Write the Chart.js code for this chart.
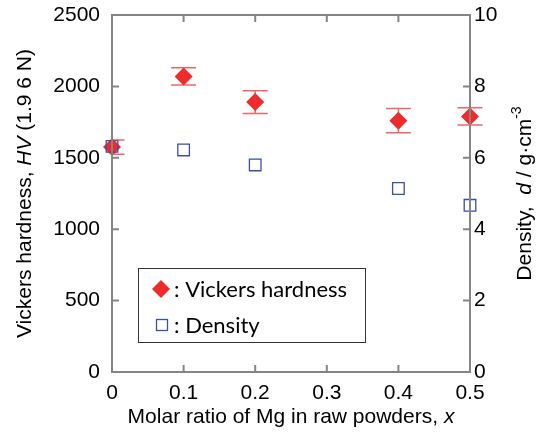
<!DOCTYPE html>
<html>
<head>
<meta charset="utf-8">
<script src="https://cdn.jsdelivr.net/npm/chart.js@4.4.1/dist/chart.umd.min.js"></script>
<style>
body { margin: 0; background: #fff; }
</style>
</head>
<body>
<canvas id="myChart" width="537" height="439"></canvas>
<script>
// datos
var x_mg = [0, 0.1, 0.2, 0.4, 0.5];
var dureza = [1575, 2070, 1890, 1760, 1790];
var dureza_err = [50, 60, 80, 85, 60];
var densidad = [6.32, 6.22, 5.8, 5.14, 4.67];

var x_ticks = [0, 0.1, 0.2, 0.3, 0.4, 0.5];
var hv_ticks = [0, 500, 1000, 1500, 2000, 2500];
var d_ticks = [0, 2, 4, 6, 8, 10];

var ROJO = '#ee2a2a';
var AZUL = '#3d4ea3';
var GRIS = '#858585';
var FUENTE = '"Liberation Sans", Arial, sans-serif';

var p_dureza = [];
var p_densidad = [];
for (var i = 0; i < x_mg.length; i++) {
    p_dureza.push({x: x_mg[i], y: dureza[i]});
    p_densidad.push({x: x_mg[i], y: densidad[i]});
}

// barras de error
var errorBars = {
    id: 'errorBars',
    afterDatasetsDraw: function(chart) {
        var ctx = chart.ctx;
        var xs = chart.scales.x, ys = chart.scales.y;
        var a = chart.chartArea;
        ctx.save();
        ctx.beginPath();
        ctx.rect(a.left, 0, chart.width - a.left, chart.height);
        ctx.clip();
        ctx.strokeStyle = 'rgba(236,50,50,0.75)';
        ctx.lineWidth = 1.5;
        for (var i = 0; i < x_mg.length; i++) {
            var px = xs.getPixelForValue(x_mg[i]);
            var y1 = ys.getPixelForValue(dureza[i] + dureza_err[i]);
            var y2 = ys.getPixelForValue(dureza[i] - dureza_err[i]);
            ctx.beginPath();
            ctx.moveTo(px, y1); ctx.lineTo(px, y2);
            ctx.moveTo(px - 12.5, y1); ctx.lineTo(px + 12.5, y1);
            ctx.moveTo(px - 12.5, y2); ctx.lineTo(px + 12.5, y2);
            ctx.stroke();
        }
        ctx.restore();
    }
};

// marco, marcas hacia dentro, titulos y leyenda
var marco = {
    id: 'marco',
    afterDraw: function(chart) {
        var ctx = chart.ctx;
        var a = chart.chartArea;
        var xs = chart.scales.x, ys = chart.scales.y, y2s = chart.scales.y2;
        ctx.save();
        ctx.strokeStyle = GRIS;
        ctx.lineWidth = 2;
        ctx.strokeRect(a.left, a.top, a.right - a.left, a.bottom - a.top);
        ctx.beginPath();
        var t = 7;
        x_ticks.forEach(function(v) {
            var px = xs.getPixelForValue(v);
            ctx.moveTo(px, a.bottom); ctx.lineTo(px, a.bottom - t);
            ctx.moveTo(px, a.top); ctx.lineTo(px, a.top + t);
        });
        hv_ticks.forEach(function(v) {
            var py = ys.getPixelForValue(v);
            ctx.moveTo(a.left, py); ctx.lineTo(a.left + t, py);
        });
        d_ticks.forEach(function(v) {
            var py = y2s.getPixelForValue(v);
            ctx.moveTo(a.right, py); ctx.lineTo(a.right - t, py);
        });
        ctx.stroke();

        ctx.fillStyle = '#000';
        ctx.textBaseline = 'middle';

        // titulo eje x
        var partesX = [['Molar ratio of Mg in raw powders, ', ''], ['x', 'italic ']];
        dibujarPartes(ctx, partesX, (a.left + a.right) / 2, 417, 0);

        // titulo eje y izquierdo
        var partesY = [['Vickers hardness, ', ''], ['HV', 'italic '], [' (1.9 6 N)', '']];
        dibujarPartes(ctx, partesY, 25, (a.top + a.bottom) / 2, -Math.PI / 2);

        // titulo eje y derecho
        var partesD = [['Density,  ', ''], ['d', 'italic '], [' / g\u00b7cm', ''], ['-3', 'sup']];
        dibujarPartes(ctx, partesD, 525, (a.top + a.bottom) / 2, -Math.PI / 2);

        // leyenda
        ctx.strokeStyle = '#333';
        ctx.lineWidth = 1;
        ctx.strokeRect(138.5, 268.5, 227, 74);
        var lx = 161;
        var ly1 = 289, ly2 = 325;
        ctx.fillStyle = ROJO;
        ctx.beginPath();
        ctx.moveTo(lx - 9, ly1); ctx.lineTo(lx, ly1 - 9); ctx.lineTo(lx + 9, ly1); ctx.lineTo(lx, ly1 + 9);
        ctx.closePath();
        ctx.fill();
        ctx.strokeStyle = AZUL;
        ctx.lineWidth = 1.3;
        ctx.strokeRect(lx - 4.5, ly2 - 5.5, 11, 11);
        ctx.fillStyle = '#000';
        ctx.font = '22px Lato, "Open Sans", sans-serif';
        ctx.textAlign = 'left';
        ctx.fillText(': Vickers hardness', 174, ly1 + 1);
        ctx.fillText(': Density', 174, ly2 + 1);
        ctx.restore();
    }
};

function dibujarPartes(ctx, partes, cx, cy, rot)
{
    ctx.save();
    ctx.translate(cx, cy);
    ctx.rotate(rot);
    var total = 0;
    var fuentes = [];
    partes.forEach(function(p) {
        var f = p[1] === 'sup' ? '14px ' + FUENTE : p[1] + '21px ' + FUENTE;
        fuentes.push(f);
        ctx.font = f;
        total += ctx.measureText(p[0]).width;
    });
    var pos = -total / 2;
    ctx.textAlign = 'left';
    partes.forEach(function(p, i) {
        ctx.font = fuentes[i];
        var dy = p[1] === 'sup' ? -8 : 0;
        ctx.fillText(p[0], pos, dy);
        pos += ctx.measureText(p[0]).width;
    });
    ctx.restore();
}

function etiqueta(v) { return String(v); }

function ajusteY(ancho) {
    return function(s) {
        s.width = ancho;
        s.paddingTop = 0;
        s.paddingBottom = 0;
    };
}

var ctx = document.getElementById("myChart").getContext('2d');
var myChart = new Chart(ctx, {
    type: 'scatter',
    data: {
        datasets: [{
            label: 'Density',
            data: p_densidad,
            yAxisID: 'y2',
            pointStyle: 'rect',
            pointRadius: 8.2,
            pointHoverRadius: 8.2,
            borderColor: AZUL,
            backgroundColor: 'rgba(0,0,0,0)',
            borderWidth: 1.3,
            clip: false
        }, {
            label: 'Vickers hardness',
            data: p_dureza,
            yAxisID: 'y',
            pointStyle: 'rectRot',
            pointRadius: 9,
            pointHoverRadius: 9,
            borderColor: ROJO,
            backgroundColor: ROJO,
            borderWidth: 0,
            clip: false
        }]
    },
    options: {
        responsive: false,
        animation: false,
        devicePixelRatio: 1,
        layout: { padding: { top: 15, left: 0, right: 0, bottom: 0 } },
        plugins: {
            legend: { display: false },
            tooltip: { enabled: false }
        },
        scales: {
            x: {
                type: 'linear',
                min: 0, max: 0.5,
                afterFit: function(s) { s.height = 67; s.paddingLeft = 0; s.paddingRight = 0; },
                afterBuildTicks: function(s) { s.ticks = x_ticks.map(function(v) { return {value: v}; }); },
                grid: { display: false, drawTicks: false, tickLength: 0 },
                border: { display: false },
                ticks: { color: '#000', padding: 9, maxRotation: 0, callback: etiqueta, font: { family: FUENTE, size: 21 } }
            },
            y: {
                position: 'left',
                min: 0, max: 2500,
                afterFit: ajusteY(112),
                afterBuildTicks: function(s) { s.ticks = hv_ticks.map(function(v) { return {value: v}; }); },
                grid: { display: false, drawTicks: false, tickLength: 0 },
                border: { display: false },
                ticks: { color: '#000', padding: 12, callback: etiqueta, font: { family: FUENTE, size: 21 } }
            },
            y2: {
                position: 'right',
                min: 0, max: 10,
                afterFit: ajusteY(67),
                afterBuildTicks: function(s) { s.ticks = d_ticks.map(function(v) { return {value: v}; }); },
                grid: { display: false, drawTicks: false, tickLength: 0 },
                border: { display: false },
                ticks: { color: '#000', padding: 4, callback: etiqueta, font: { family: FUENTE, size: 21 } }
            }
        }
    },
    plugins: [errorBars, marco]
});
</script>
</body>
</html>
